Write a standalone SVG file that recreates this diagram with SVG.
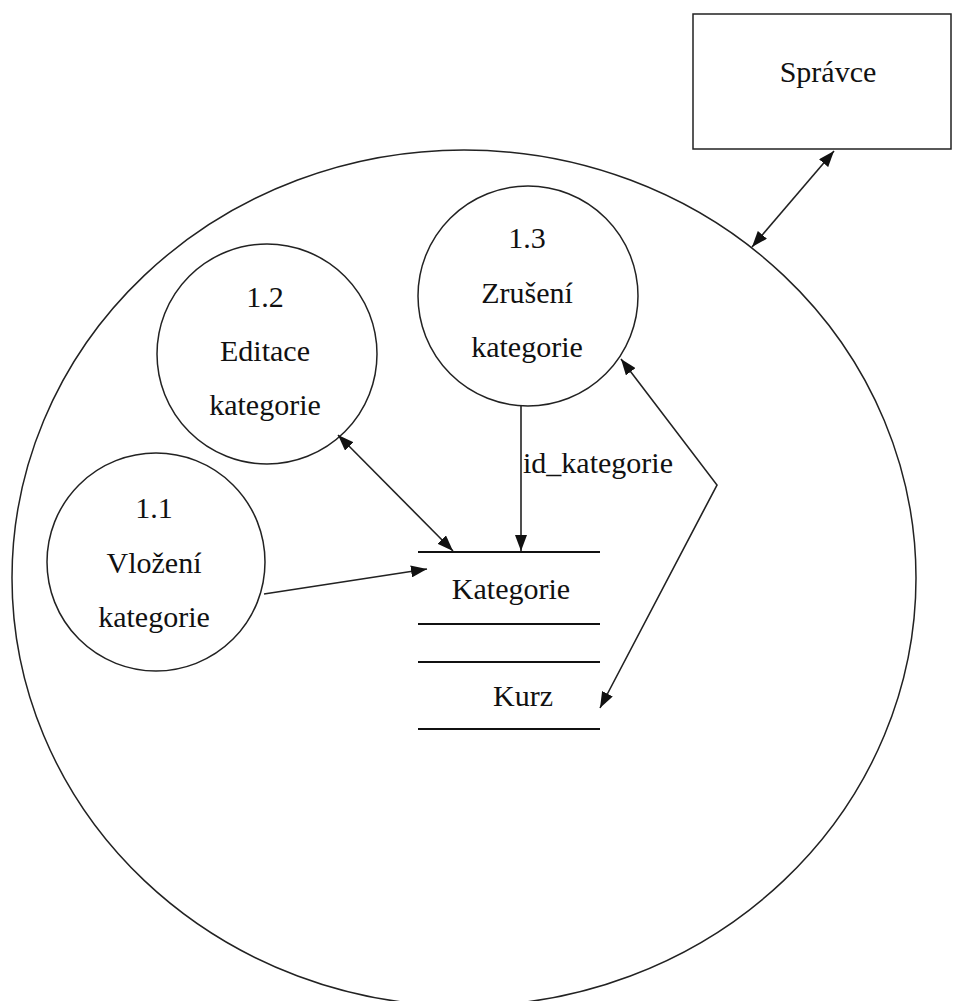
<svg xmlns="http://www.w3.org/2000/svg" width="955" height="1001" viewBox="0 0 955 1001">
  <style>
    text { font-family: 'Liberation Serif', 'DejaVu Serif', serif; font-size: 30px; fill: #111; text-anchor: middle; }
    .shape { fill: #fff; stroke: #222; stroke-width: 1.5; }
    .flow { fill: none; stroke: #222; stroke-width: 1.6; }
    .store { stroke: #111; stroke-width: 2; }
  </style>
  <defs>
    <marker id="arrow" viewBox="0 0 16 12" refX="16" refY="6" markerWidth="16" markerHeight="12" markerUnits="userSpaceOnUse" orient="auto-start-reverse">
      <path d="M0,0 L16,6 L0,12 z" fill="#111"/>
    </marker>
  </defs>
  <rect width="955" height="1001" fill="#fff"/>

  <!-- system boundary -->
  <g id="system">
    <ellipse cx="464" cy="578" rx="452" ry="428" fill="none" stroke="#222" stroke-width="1.5"/>
  </g>

  <!-- external entity -->
  <g id="spravce">
    <rect x="693" y="14" width="258" height="135" class="shape" stroke-width="2"/>
    <text x="828" y="82">Správce</text>
  </g>

  <!-- processes -->
  <g id="p1-1">
    <circle cx="156" cy="562" r="109" class="shape"/>
    <text x="154" y="518">1.1</text>
    <text x="154" y="573">Vložení</text>
    <text x="154" y="627">kategorie</text>
  </g>
  <g id="p1-2">
    <circle cx="267" cy="354" r="110" class="shape"/>
    <text x="265" y="307">1.2</text>
    <text x="265" y="361">Editace</text>
    <text x="265" y="415">kategorie</text>
  </g>
  <g id="p1-3">
    <circle cx="528" cy="296" r="110" class="shape"/>
    <text x="527" y="248">1.3</text>
    <text x="527" y="303">Zrušení</text>
    <text x="527" y="357">kategorie</text>
  </g>

  <!-- data stores -->
  <g id="store-kategorie">
    <line x1="418" y1="552" x2="600" y2="552" class="store"/>
    <line x1="418" y1="624" x2="600" y2="624" class="store"/>
    <text x="511" y="599">Kategorie</text>
  </g>
  <g id="store-kurz">
    <line x1="418" y1="662" x2="600" y2="662" class="store"/>
    <line x1="418" y1="729" x2="600" y2="729" class="store"/>
    <text x="523" y="706">Kurz</text>
  </g>

  <!-- data flows -->
  <g id="connectors">
    <line x1="752" y1="247" x2="834" y2="151" class="flow" marker-start="url(#arrow)" marker-end="url(#arrow)"/>
    <line x1="264" y1="594" x2="427" y2="569" class="flow" marker-end="url(#arrow)"/>
    <line x1="338" y1="435" x2="453" y2="551" class="flow" marker-start="url(#arrow)" marker-end="url(#arrow)"/>
    <line x1="521" y1="406" x2="521" y2="551" class="flow" marker-end="url(#arrow)"/>
    <text x="523" y="473" style="text-anchor:start">id_kategorie</text>
    <polyline points="621,359 717,485 600,708" class="flow" marker-start="url(#arrow)" marker-end="url(#arrow)"/>
  </g>
</svg>
